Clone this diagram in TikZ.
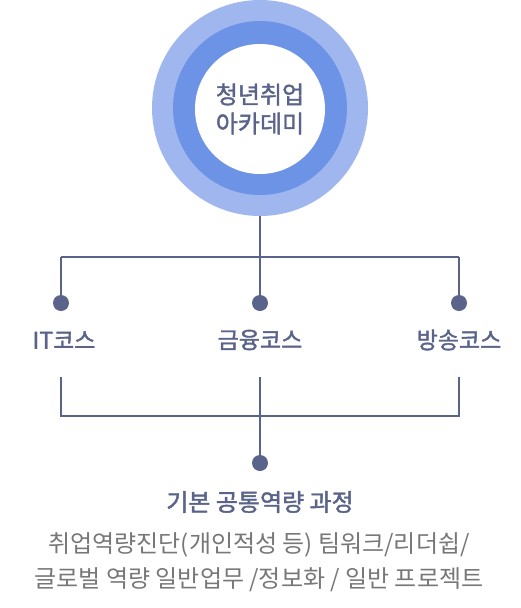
\documentclass[tikz,border=0pt]{standalone}
\usepackage{fontspec}
\setmainfont{Noto Sans CJK KR}
\newfontfamily\medfont[FakeBold=1.6]{Noto Sans CJK KR}
\definecolor{ringout}{HTML}{A0B6EE}
\definecolor{ringmid}{HTML}{6D93E6}
\definecolor{slate}{HTML}{5A6389}
\definecolor{greytxt}{HTML}{777777}

\begin{document}
\begin{tikzpicture}[x=1pt,y=-1pt]

    \tikzset{
      Ring/.style = { circle, inner sep=0pt },
      Dot/.style = { circle, fill=slate, inner sep=0pt,
                     minimum size=16pt },
      Course/.style = { text=slate,
                        font=\medfont\fontsize{23}{23}\selectfont },
      Link/.style = { draw=slate, line width=2pt } }
    \useasboundingbox (0,0) rectangle (520,608);

    \node[Ring, fill=ringout, minimum size=216pt] (outer) at (260,108){};
    \node[Ring, fill=ringmid, minimum size=174pt] (mid) at (260,108){};
    \node[Ring, fill=white, minimum size=130pt, align=center, text=slate,
          font=\medfont\fontsize{24}{29}\selectfont] (academy) at (260,109)
          {청년취업\\아카데미};

    \coordinate (top) at (260,257);
    \coordinate (topL) at (61,257);
    \coordinate (topR) at (459,257);

    \node[Dot] (d1) at (61,303){};
    \node[Dot] (d2) at (260,303){};
    \node[Dot] (d3) at (459,303){};

    \node[Course] (it) at (64,340){IT코스};
    \node[Course] (fin) at (260,340){금융코스};
    \node[Course] (tv) at (459,340){방송코스};

    \coordinate (lowL1) at (61,377);
    \coordinate (lowM1) at (260,377);
    \coordinate (lowR1) at (459,377);
    \coordinate (lowL) at (61,416);
    \coordinate (lowR) at (459,416);

    \node[Dot] (d4) at (260,463){};

    \node[Course, font=\medfont\fontsize{24}{24}\selectfont] (base)
          at (260,502){기본 공통역량 과정};
    \node[text=greytxt, align=center,
          font=\fontsize{24}{35}\selectfont] (desc) at (259,562)
          {취업역량진단(개인적성 등) 팀워크/리더쉽/\\
           글로벌 역량 일반업무 /정보화 / 일반 프로젝트};

    % upper tree
    \draw[Link] (outer.south) -- (top);
    \draw[Link] (topL) -- (topR);
    \draw[Link] (topL) -- (d1);
    \draw[Link] (top) -- (d2);
    \draw[Link] (topR) -- (d3);

    % lower tree
    \draw[Link] (lowL1) -- (lowL) -- (lowR) -- (lowR1);
    \draw[Link] (lowM1) -- (d4);
\end{tikzpicture}
\end{document}
